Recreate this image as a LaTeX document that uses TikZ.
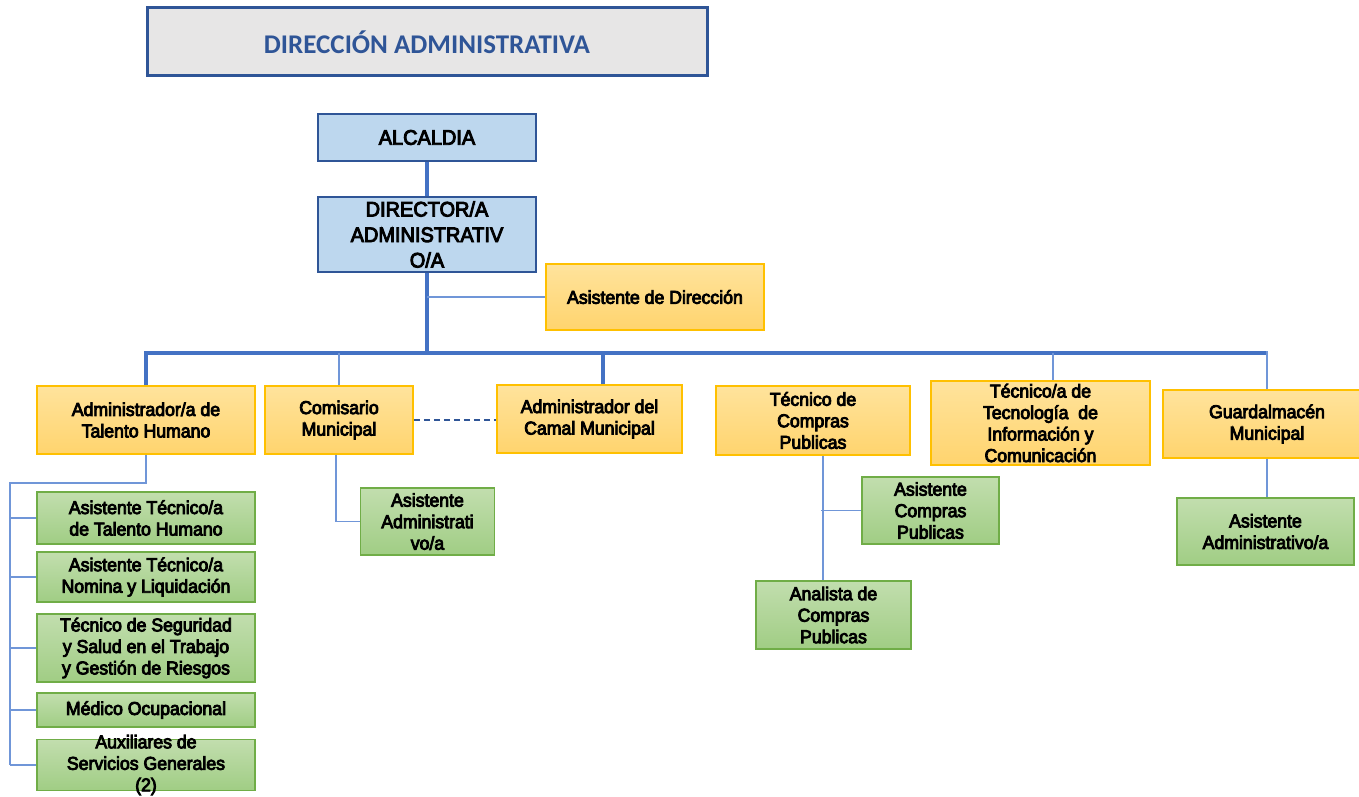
\documentclass[tikz,border=0pt]{standalone}
\usepackage{fontspec}
\setmainfont{Liberation Sans}[FakeBold=4.5, FakeStretch=0.95]
\newfontfamily\titulofont{Carlito}
\usetikzlibrary{positioning}

\definecolor{azul}{HTML}{BDD7EE}
\definecolor{azulborde}{HTML}{2F5597}
\definecolor{gristitulo}{HTML}{E7E6E6}
\definecolor{naranjaclaro}{HTML}{FFE39C}
\definecolor{naranja}{HTML}{FFD46E}
\definecolor{naranjaborde}{HTML}{FFC000}
\definecolor{verdeclaro}{HTML}{C2DEAE}
\definecolor{verde}{HTML}{A0CD84}
\definecolor{verdeborde}{HTML}{70AD47}
\definecolor{linea}{HTML}{4472C4}
\definecolor{lineafina}{HTML}{7096D8}

\tikzset{
  orgbox/.style={rectangle, inner sep=2pt, align=center, font=\fontsize{18.6}{21.5}\selectfont},
  titulo/.style={orgbox, draw=azulborde, fill=gristitulo, line width=3pt,
    text=azulborde, font=\titulofont\bfseries\fontsize{27}{30}\selectfont},
  jefe/.style={orgbox, draw=azulborde, fill=azul, line width=1.2pt,
    font=\fontsize{21}{25.5}\selectfont},
  cargo/.style={orgbox, draw=naranjaborde, top color=naranjaclaro, bottom color=naranja, line width=1.5pt},
  apoyo/.style={orgbox, draw=verdeborde, top color=verdeclaro, bottom color=verde, line width=1.5pt},
  grueso/.style={draw=linea, line width=4pt},
  fino/.style={draw=lineafina, line width=1.5pt},
  discont/.style={draw=azulborde, line width=1.5pt, dash pattern=on 6pt off 4pt},
}

\begin{document}
\begin{tikzpicture}[x=1pt,y=-1pt]
\path[use as bounding box, fill=white] (0,0) rectangle (1359,797);

\node[titulo, minimum width=560, minimum height=68] (tit) at (427,42) {DIRECCIÓN ADMINISTRATIVA};

\node[jefe, minimum width=218, minimum height=47] (alc) at (427,137.5) {ALCALDIA};
\node[jefe, minimum width=218, minimum height=75] (dir) at (427,234.5) {DIRECTOR/A\\ADMINISTRATIV\\O/A};
\node[cargo, minimum width=218, minimum height=66] (asisdir) at (655,297) {Asistente de Dirección};

% segundo nivel
\node[cargo, minimum width=218, minimum height=68] (th) at (146,420) {Administrador/a de\\Talento Humano};
\node[cargo, minimum width=148, minimum height=68] (com) at (339,420) {Comisario\\Municipal};
\node[cargo, minimum width=185, minimum height=68] (camal) at (589.5,419) {Administrador del\\Camal Municipal};
\node[cargo, minimum width=194, minimum height=69] (compras) at (813,420.5) {Técnico de\\Compras\\Publicas};
\node[cargo, minimum width=219, minimum height=84] (tec) at (1040.5,423) {Técnico/a de\\Tecnología\ \ de\\Información y\\Comunicación};
\node[cargo, minimum width=208, minimum height=68] (guard) at (1267,424) {Guardalmacén\\Municipal};

% tercer nivel
\node[apoyo, minimum width=218, minimum height=52] (athu) at (146,518) {Asistente Técnico/a\\de Talento Humano};
\node[apoyo, minimum width=218, minimum height=50] (anom) at (146,577) {Asistente Técnico/a\\Nomina y Liquidación};
\node[apoyo, minimum width=218, minimum height=68] (tseg) at (146,648) {Técnico de Seguridad\\y Salud en el Trabajo\\y Gestión de Riesgos};
\node[apoyo, minimum width=218, minimum height=34] (med) at (146,710) {Médico Ocupacional};
\node[apoyo, minimum width=218, minimum height=51] (aux) at (146,765) {};
\node[orgbox] at (aux) {Auxiliares de\\Servicios Generales\\(2)};
\node[apoyo, minimum width=134, minimum height=67] (asadm) at (427.5,521.5) {Asistente\\Administrati\\vo/a};
\node[apoyo, minimum width=137, minimum height=67] (ascomp) at (930.5,510.5) {Asistente\\Compras\\Publicas};
\node[apoyo, minimum width=155, minimum height=68] (anal) at (833.5,615) {Analista de\\Compras\\Publicas};
\node[apoyo, minimum width=177, minimum height=67] (asadmg) at (1265.5,531.5) {Asistente\\Administrativo/a};

% conectores
\coordinate (bus) at (427,353);
\draw[grueso] (alc) -- (dir);
\draw[grueso] (dir.south) -- (bus);
\draw[grueso, line join=miter] (th.north) |- (bus -| guard.north);
\draw[grueso] ([xshift=13.5pt]camal.north) -- ([xshift=13.5pt]camal.north |- bus);
\draw[fino] (dir.south |- asisdir.west) -- (asisdir.west);
\draw[fino] (com.north) -- (com.north |- bus);
\draw[fino] ([xshift=12.5pt]tec.north) -- ([xshift=12.5pt]tec.north |- bus);
\draw[fino] (guard.north) -- ([yshift=2pt]guard.north |- bus);
\draw[discont] (com.east) -- (com.east -| camal.west);

\coordinate (thbus) at (10,483);
\draw[fino] (th.south) |- (thbus) -- (thbus |- aux.west);
\foreach \n in {athu,anom,tseg,med,aux}
  \draw[fino] (thbus |- \n.west) -- (\n.west);

\draw[fino] ([xshift=-3pt]com.south) |- (asadm.west);
\draw[fino] ([xshift=10pt]compras.south) -- ([xshift=10pt]compras.south |- anal.north);
\draw[fino] ([xshift=8pt]compras.south |- ascomp.west) -- (ascomp.west);
\draw[fino] (guard.south) -- (guard.south |- asadmg.north);

\end{tikzpicture}
\end{document}
